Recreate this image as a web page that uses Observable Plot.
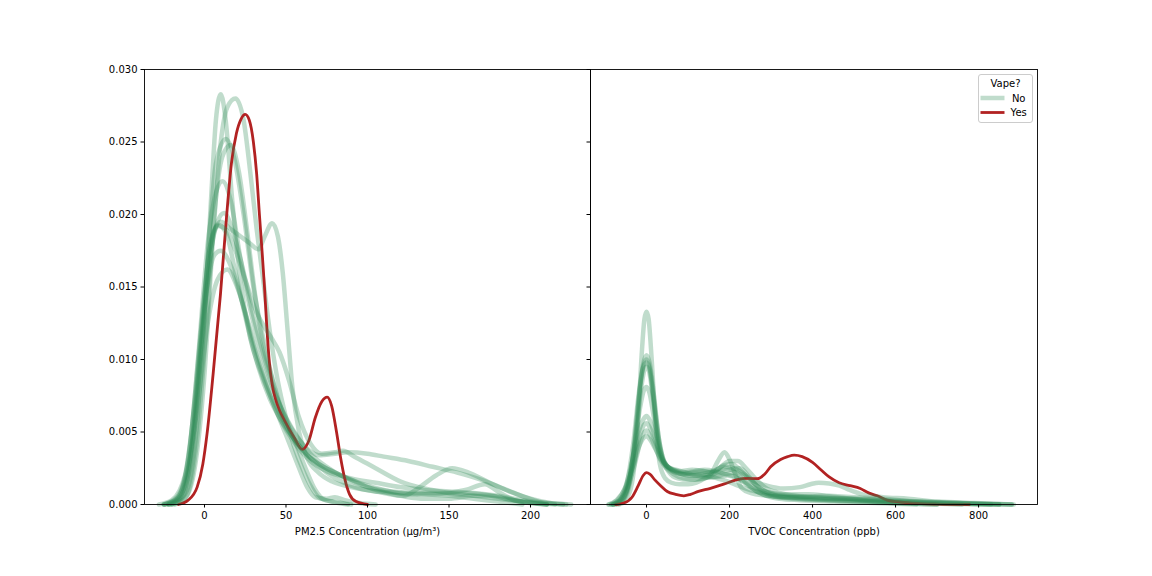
<!DOCTYPE html>
<html><head><meta charset="utf-8">
<script src="https://cdn.jsdelivr.net/npm/d3@7"></script>
<script src="https://cdn.jsdelivr.net/npm/@observablehq/plot@0.6"></script>
<style>
html,body{margin:0;padding:0;background:#fff;}
#fig{position:relative;width:1152px;height:576px;font-family:"DejaVu Sans",sans-serif;overflow:hidden;}
#left,#right,#overlay{position:absolute;top:0;}
#left{left:0;} #right{left:590px;} #overlay{left:0;pointer-events:none;}
svg{overflow:visible;}
</style></head><body>
<div id="fig"><div id="left"></div><div id="right"></div><svg id="overlay" width="1152" height="576"></svg></div>
<script>
// ---------- tick labels / axis settings ----------
const yTicks = [0, 0.005, 0.010, 0.015, 0.020, 0.025, 0.030];
const pmTicks = [0, 50, 100, 150, 200];
const tvocTicks = [0, 200, 400, 600, 800];
const pmLabel = "PM2.5 Concentration (\u03bcg/m\u00b3)";
const tvocLabel = "TVOC Concentration (ppb)";
const legendTitle = "Vape?";
const legendLabels = ["No", "Yes"];

// ---------- PM2.5 density curves, Vape? = No ----------
const pmNo1 = [[-22,0],[-15,0.0003],[-10,0.0012],[-5,0.005],[0,0.013],[4,0.021],[7,0.0265],[10,0.0283],[13,0.0265],[17,0.021],[22,0.0155],[28,0.0115],[35,0.009],[42,0.007],[50,0.0048],[57,0.0028],[63,0.0012],[68,0.0005],[75,0.0004],[80,0.0005],[86,0.0003],[95,0.0001],[105,0]];
const pmNo2 = [[-20,0],[-12,0.0004],[-6,0.0025],[0,0.009],[5,0.018],[10,0.025],[14,0.0274],[19,0.028],[24,0.0265],[28,0.023],[32,0.019],[36,0.0155],[40,0.012],[45,0.0085],[50,0.006],[55,0.004],[60,0.0025],[65,0.0013],[70,0.0005],[78,0.0002],[88,0]];
const pmNo3 = [[-25,0],[-17,0.0003],[-10,0.002],[-4,0.008],[2,0.017],[7,0.0235],[13,0.0252],[18,0.024],[24,0.02],[30,0.015],[36,0.0115],[42,0.0085],[48,0.006],[55,0.0045],[62,0.0035],[70,0.0028],[80,0.0022],[95,0.0015],[110,0.001],[125,0.0007],[140,0.0007],[155,0.0008],[170,0.0007],[185,0.0004],[200,0.0001],[210,0]];
const pmNo4 = [[-25,0],[-17,0.0005],[-10,0.003],[-4,0.01],[2,0.018],[7,0.0215],[11,0.0223],[16,0.021],[22,0.017],[28,0.0135],[35,0.0105],[42,0.008],[50,0.006],[58,0.0045],[65,0.0035],[75,0.0026],[85,0.0019],[100,0.0012],[115,0.0009],[130,0.0008],[145,0.0008],[160,0.001],[172,0.0014],[180,0.0009],[190,0.0003],[200,0.0001],[210,0]];
const pmNo5 = [[-22,0],[-15,0.0005],[-8,0.004],[-2,0.011],[4,0.0175],[8,0.0195],[12,0.0201],[17,0.019],[23,0.0165],[30,0.013],[37,0.01],[44,0.0075],[52,0.0055],[60,0.0042],[70,0.0034],[80,0.0035],[88,0.0036],[100,0.0035],[110,0.0033],[125,0.003],[140,0.0026],[155,0.0022],[170,0.0017],[185,0.001],[200,0.0004],[212,0.0001],[222,0]];
const pmNo6 = [[-22,0],[-15,0.0004],[-8,0.003],[-3,0.009],[2,0.0155],[6,0.0188],[10,0.0195],[16,0.019],[22,0.0185],[28,0.018],[33,0.0176],[37,0.0185],[41.5,0.0194],[45,0.0185],[48,0.016],[51,0.012],[54,0.008],[58,0.005],[63,0.0032],[70,0.0022],[78,0.0016],[90,0.0012],[105,0.0009],[120,0.0006],[135,0.0004],[150,0.0004],[165,0.0006],[175,0.0006],[190,0.0003],[205,0.0001],[215,0]];
const pmNo7 = [[-25,0],[-17,0.0004],[-10,0.0025],[-4,0.007],[2,0.0125],[8,0.0155],[14,0.0162],[20,0.015],[27,0.0125],[35,0.0095],[43,0.007],[52,0.005],[60,0.0038],[70,0.0028],[80,0.0022],[90,0.0017],[100,0.0012],[112,0.0008],[122,0.0006],[132,0.0012],[142,0.002],[152,0.0025],[162,0.0022],[175,0.0015],[190,0.0008],[205,0.0002],[220,0]];
const pmNo8 = [[-24,0],[-16,0.0005],[-9,0.004],[-3,0.011],[3,0.0175],[8,0.0192],[13,0.019],[19,0.0175],[25,0.0155],[31,0.0135],[37,0.0122],[41,0.0115],[46,0.0105],[52,0.0085],[58,0.006],[65,0.0042],[72,0.0035],[80,0.0036],[85,0.0037],[92,0.0033],[105,0.0025],[120,0.0016],[135,0.0011],[150,0.0008],[165,0.0006],[180,0.0004],[195,0.0002],[210,0]];
const pmNo9 = [[-20,0],[-13,0.0006],[-7,0.005],[-2,0.012],[3,0.0175],[8,0.0193],[13,0.0188],[19,0.016],[26,0.0125],[33,0.0095],[40,0.0073],[47,0.0058],[55,0.0045],[65,0.0032],[75,0.0022],[90,0.0013],[105,0.0009],[120,0.0008],[135,0.0007],[150,0.0006],[165,0.0004],[180,0.0002],[195,0]];
const pmNo10 = [[-18,0],[-11,0.0006],[-5,0.004],[1,0.012],[6,0.02],[11,0.024],[16,0.0248],[21,0.023],[26,0.019],[31,0.0145],[36,0.011],[42,0.0085],[48,0.0063],[55,0.0045],[62,0.0025],[68,0.001],[74,0.0003],[80,0.0002],[90,0]];
const pmNo11 = [[-28,0],[-20,0.0003],[-12,0.002],[-5,0.008],[1,0.0145],[6,0.0172],[10,0.0175],[16,0.0165],[23,0.014],[30,0.011],[38,0.0082],[46,0.006],[55,0.0043],[65,0.003],[75,0.0023],[90,0.0018],[105,0.0015],[120,0.0012],[135,0.001],[150,0.0009],[165,0.0008],[180,0.0006],[195,0.0003],[210,0.0001],[225,0]];
// ---------- PM2.5 density curve, Vape? = Yes ----------
const pmYes = [[-16,0],[-10,0.0003],[-4.5,0.0012],[-1,0.0028],[1.6,0.0049],[5.3,0.009],[9.8,0.0145],[13.5,0.0198],[16.5,0.0235],[19.6,0.0256],[22.5,0.0266],[25,0.0269],[27.5,0.0265],[30,0.025],[32,0.0228],[33.7,0.02],[35.3,0.0175],[36.8,0.015],[38.2,0.0123],[39.8,0.0098],[41.5,0.0083],[43.5,0.0073],[46,0.0065],[49,0.0058],[55,0.0046],[60,0.0038],[64,0.0044],[68,0.006],[72,0.0071],[75.3,0.0074],[78,0.0068],[81,0.005],[83.4,0.0033],[86,0.0018],[89,0.0007],[93,0.0002],[100,0]];

// ---------- TVOC density curves, Vape? = No ----------
const tvNo1 = [[-65,0],[-50,0.0003],[-35,0.0015],[-22,0.005],[-12,0.0102],[-5,0.0128],[0,0.0133],[5,0.0128],[12,0.0102],[22,0.0055],[32,0.0028],[45,0.0018],[60,0.0015],[80,0.0014],[100,0.0014],[120,0.0015],[140,0.0018],[155,0.0021],[172,0.003],[188,0.0036],[200,0.0031],[215,0.002],[230,0.0011],[250,0.0008],[290,0.0006],[330,0.0005],[380,0.0004],[450,0.0003],[550,0.0002],[650,0.0001],[750,0.00003],[850,0]];
const tvNo2 = [[-80,0],[-62,0.0002],[-45,0.0012],[-30,0.004],[-18,0.0075],[-8,0.0097],[0,0.0103],[8,0.0097],[18,0.0075],[30,0.0045],[42,0.003],[55,0.0025],[75,0.0022],[100,0.002],[125,0.002],[150,0.0021],[175,0.0025],[200,0.003],[220,0.003],[240,0.0025],[265,0.0017],[290,0.0011],[320,0.0008],[360,0.0006],[420,0.0005],[500,0.0004],[600,0.0002],[700,0.0001],[800,0.00003],[880,0]];
const tvNo3 = [[-75,0],[-58,0.0003],[-42,0.0015],[-28,0.0045],[-15,0.0082],[-6,0.0097],[0,0.01],[7,0.0095],[16,0.0075],[27,0.0048],[40,0.003],[55,0.0022],[75,0.0018],[100,0.0017],[130,0.0018],[160,0.0019],[190,0.0021],[215,0.0022],[240,0.0019],[270,0.0012],[300,0.0007],[340,0.0005],[380,0.0005],[420,0.0006],[460,0.0005],[520,0.0003],[600,0.0001],[700,0]];
const tvNo4 = [[-85,0],[-65,0.0003],[-48,0.0014],[-32,0.0042],[-18,0.0078],[-8,0.0095],[0,0.0098],[8,0.0093],[18,0.0072],[30,0.0045],[42,0.003],[60,0.0024],[85,0.0021],[110,0.0022],[135,0.0023],[160,0.0022],[185,0.0027],[205,0.0028],[225,0.0024],[250,0.0017],[280,0.001],[310,0.0007],[350,0.0006],[400,0.0005],[460,0.0004],[530,0.0003],[620,0.0002],[720,0.0001],[830,0]];
const tvNo5 = [[-70,0],[-55,0.0003],[-40,0.0015],[-26,0.0045],[-14,0.0078],[-5,0.0093],[0,0.0095],[6,0.0092],[15,0.0075],[26,0.0048],[38,0.0032],[52,0.0026],[70,0.0024],[95,0.0022],[120,0.002],[145,0.0019],[170,0.0019],[195,0.002],[220,0.0018],[250,0.0012],[280,0.0007],[320,0.0004],[370,0.0003],[450,0.0002],[550,0.0001],[650,0]];
const tvNo6 = [[-80,0],[-62,0.0003],[-45,0.0013],[-30,0.0038],[-16,0.0066],[-6,0.0079],[0,0.0081],[7,0.0077],[17,0.0061],[28,0.0042],[40,0.003],[55,0.0025],[80,0.0023],[110,0.0024],[140,0.0023],[170,0.0022],[200,0.0024],[225,0.0025],[250,0.0018],[275,0.001],[300,0.0006],[350,0.0004],[420,0.0003],[500,0.0002],[600,0.0001],[700,0]];
const tvNo7 = [[-90,0],[-70,0.0003],[-50,0.0013],[-33,0.0032],[-18,0.0051],[-7,0.0059],[0,0.0061],[8,0.0058],[20,0.0047],[32,0.0035],[45,0.0027],[60,0.0023],[85,0.0021],[110,0.002],[135,0.0021],[160,0.0023],[185,0.0026],[210,0.0025],[235,0.0021],[260,0.0016],[290,0.0013],[330,0.0011],[370,0.0012],[395,0.0014],[415,0.0015],[440,0.00145],[465,0.0013],[490,0.001],[520,0.0007],[570,0.0005],[630,0.0004],[700,0.0002],[790,0.0001],[885,0]];
const tvNo8 = [[-85,0],[-65,0.0003],[-47,0.0013],[-30,0.003],[-16,0.0047],[-6,0.0055],[0,0.0056],[8,0.0053],[20,0.0044],[33,0.0034],[48,0.0027],[65,0.0024],[90,0.0022],[115,0.0023],[140,0.0024],[165,0.0023],[190,0.0021],[215,0.0019],[240,0.0015],[270,0.001],[300,0.0008],[340,0.0007],[390,0.0007],[440,0.0006],[500,0.0005],[570,0.0004],[650,0.0002],[750,0.0001],[850,0]];
const tvNo9 = [[-80,0],[-62,0.0003],[-45,0.0012],[-28,0.0028],[-14,0.0044],[-5,0.005],[0,0.0051],[8,0.0048],[20,0.004],[33,0.0031],[48,0.0025],[65,0.0021],[90,0.0018],[120,0.0017],[150,0.0019],[175,0.0023],[195,0.0025],[215,0.0022],[240,0.0015],[265,0.0009],[295,0.0006],[340,0.0005],[400,0.0004],[480,0.0003],[560,0.0002],[650,0.0001],[760,0]];
const tvNo10 = [[-92,0],[-72,0.0003],[-52,0.0011],[-34,0.0025],[-18,0.004],[-7,0.0046],[0,0.0047],[8,0.0045],[20,0.0039],[35,0.0031],[50,0.0026],[70,0.0023],[95,0.0021],[120,0.0021],[145,0.002],[170,0.0018],[195,0.0016],[220,0.0013],[250,0.001],[280,0.0008],[320,0.0006],[370,0.0005],[430,0.0004],[500,0.0004],[580,0.0003],[660,0.0002],[760,0.0001],[880,0]];
// ---------- TVOC density curve, Vape? = Yes ----------
const tvYes = [[-75,0],[-55,0.0001],[-35,0.0005],[-20,0.0013],[-8,0.002],[0,0.0022],[8,0.0021],[20,0.0017],[34,0.0013],[50,0.0009],[70,0.0007],[90,0.0006],[106,0.0007],[125,0.0009],[152,0.0011],[186,0.0014],[216,0.0017],[245,0.0018],[267,0.00178],[285,0.0021],[299,0.0026],[323,0.0031],[340,0.0033],[356,0.0034],[375,0.0033],[400,0.0029],[420,0.0024],[440,0.0019],[464,0.0015],[490,0.0013],[515,0.0011],[535,0.0008],[556,0.0006],[580,0.0003],[604,0.0002],[640,0.0001],[700,0.00003],[778,0]];

const pmNoCurves = [pmNo1,pmNo2,pmNo3,pmNo4,pmNo5,pmNo6,pmNo7,pmNo8,pmNo9,pmNo10,pmNo11];
const tvNoCurves = [tvNo1,tvNo2,tvNo3,tvNo4,tvNo5,tvNo6,tvNo7,tvNo8,tvNo9,tvNo10];

// ---------- styling ----------
const GREEN = "#2e8b57", RED = "#b22222";
const toRows = (curves) => curves.flatMap((c, i) => c.map(([x, y]) => ({x, y, id: i})));
const baseStyle = {fontFamily: "DejaVu Sans, sans-serif", fontSize: "10px", color: "black", background: "transparent", overflow: "visible"};

function panel({curves, yes, domain, ticks, label, width, mL, mR, showY}) {
  const rows = toRows(curves);
  const split = Math.ceil(curves.length * 0.6);
  const first = rows.filter(d => d.id < split), rest = rows.filter(d => d.id >= split);
  const yesRows = yes.map(([x, y]) => ({x, y}));
  const green = (data) => Plot.line(data, {x: "x", y: "y", z: "id", stroke: GREEN, strokeOpacity: 0.3, strokeWidth: 4.5, curve: "monotone-x"});
  return Plot.plot({
    width, height: 576, marginLeft: mL, marginRight: mR, marginTop: 69, marginBottom: 72,
    style: baseStyle,
    x: {domain, label: null},
    y: {domain: [0, 0.03], label: null},
    marks: [
      green(first),
      Plot.line(yesRows, {x: "x", y: "y", stroke: RED, strokeWidth: 2.8, curve: "monotone-x"}),
      green(rest),
      Plot.frame({stroke: "black", strokeWidth: 0.9}),
      Plot.axisX({ticks, tickSize: 3.5, tickPadding: 3.5, label: null, tickFormat: d3.format("d")}),
      Plot.axisY({ticks: yTicks, tickSize: 3.5, tickPadding: 3.5, label: null,
        tickFormat: showY ? d3.format(".3f") : () => ""}),
      Plot.text([label], {text: d => d, frameAnchor: "bottom", dy: 27, fontSize: 10, lineAnchor: "middle", fill: "black"})
    ]
  });
}

document.getElementById("left").append(panel({curves: pmNoCurves, yes: pmYes, domain: [-36.8, 236.8], ticks: pmTicks, label: pmLabel, width: 590, mL: 144, mR: 0, showY: true}));
document.getElementById("right").append(panel({curves: tvNoCurves, yes: tvYes, domain: [-135, 942], ticks: tvocTicks, label: tvocLabel, width: 562, mL: 0, mR: 115, showY: false}));

// ---------- legend ----------
const ov = d3.select("#overlay");
const lg = ov.append("g").attr("font-family", "DejaVu Sans, sans-serif").attr("font-size", 10);
lg.append("rect").attr("x", 978.5).attr("y", 74.5).attr("width", 54).attr("height", 48).attr("rx", 2.5)
  .attr("fill", "white").attr("fill-opacity", 0.8).attr("stroke", "#cccccc");
lg.append("text").attr("x", 1005.5).attr("y", 83).attr("text-anchor", "middle").attr("dominant-baseline", "central").text(legendTitle);
const entries = [{label: legendLabels[0], color: GREEN, op: 0.3, w: 4.5, y: 98}, {label: legendLabels[1], color: RED, op: 1, w: 2.8, y: 112.5}];
for (const e of entries) {
  lg.append("line").attr("x1", 980.5).attr("x2", 1004.5).attr("y1", e.y).attr("y2", e.y)
    .attr("stroke", e.color).attr("stroke-opacity", e.op).attr("stroke-width", e.w);
  lg.append("text").attr("x", 1018.7).attr("y", e.y).attr("text-anchor", "middle").attr("dominant-baseline", "central").text(e.label);
}
</script>
</body></html>
